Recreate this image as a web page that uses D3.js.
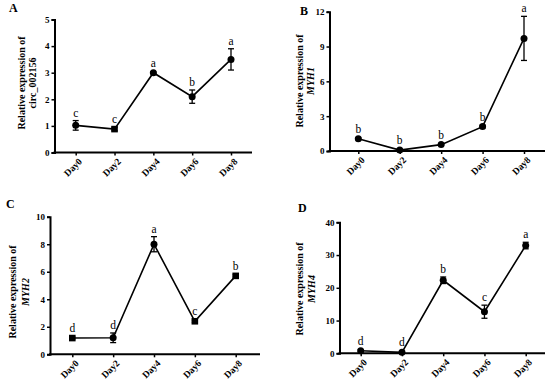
<!DOCTYPE html>
<html><head><meta charset="utf-8">
<script src="https://cdn.jsdelivr.net/npm/d3@7"></script>
<style>body{margin:0;background:#fff}svg{display:block}svg text{font-family:"Liberation Serif","DejaVu Serif",serif;fill:#000}</style>
</head><body><svg id="c" width="550" height="387"></svg>
<script>
const days = ["Day0","Day2","Day4","Day6","Day8"];
// Panel A
const aMean = [1.02, 0.88, 3.0, 2.1, 3.5];
const aErr  = [0.18, 0.06, 0.03, 0.25, 0.4];
const aLet  = ["c","c","a","b","a"];
const aShape= ["c","s","c","c","c"];
const aTicks= [0,1,2,3,4,5];
// Panel B
const bMean = [1.05, 0.08, 0.55, 2.1, 9.7];
const bErr  = [0.08, 0.05, 0.08, 0.12, 1.9];
const bLet  = ["b","b","b","b","a"];
const bShape= ["c","c","c","c","c"];
const bTicks= [0,3,6,9,12];
// Panel C
const cMean = [1.18, 1.2, 8.0, 2.4, 5.7];
const cErr  = [0.08, 0.35, 0.55, 0.08, 0.08];
const cLet  = ["d","d","a","c","b"];
const cShape= ["s","c","c","s","s"];
const cTicks= [0,2,4,6,8,10];
// Panel D
const dMean = [0.8, 0.3, 22.3, 12.7, 32.9];
const dErr  = [0.3, 0.2, 1.0, 2.0, 1.0];
const dLet  = ["d","d","b","c","a"];
const dShape= ["c","c","c","c","c"];
const dTicks= [0,10,20,30,40];

const svg = d3.select("#c");
const serif = '"Liberation Serif","DejaVu Serif",serif';

function panel(o){
  const g = svg.append("g");
  const y = d3.scaleLinear().domain([0, o.ymax]).range([o.y0, o.y1]);
  const x = d3.scalePoint().domain(days).range([o.p0, o.p1]);
  // y axis
  const ya = g.append("g").attr("transform",`translate(${o.ax},0)`)
    .call(d3.axisLeft(y).tickValues(o.ticks).tickFormat(d3.format("d")).tickSize(3).tickPadding(2));
  ya.attr("font-family",null);
  ya.select(".domain").attr("stroke","#000").attr("stroke-width",2);
  ya.selectAll(".tick line").attr("stroke","#000").attr("stroke-width",1.5);
  ya.selectAll("text").style("font-family",serif).style("font-weight","bold").style("font-size","9px").style("fill","#000");
  // x axis
  const xa = g.append("g").attr("transform",`translate(0,${o.y0})`)
    .call(d3.axisBottom(x).tickSize(3).tickPadding(2));
  xa.attr("font-family",null);
  xa.select(".domain").remove();
  g.append("line").attr("x1",o.ax-1).attr("x2",o.axEnd).attr("y1",o.y0).attr("y2",o.y0)
    .attr("stroke","#000").attr("stroke-width",2);
  xa.selectAll(".tick line").attr("stroke","#000").attr("stroke-width",1.5);
  xa.selectAll("text").style("font-family",serif).style("font-weight","bold").style("font-size","9.5px").style("fill","#000")
    .attr("text-anchor","end").attr("dy","0").attr("transform","translate(3,6) rotate(-45)");
  // line
  const pts = days.map((d,i)=>({d, m:o.mean[i], e:o.err[i], l:o.lets[i], s:o.shape[i]}));
  g.append("path").datum(pts)
    .attr("d", d3.line().x(p=>x(p.d)).y(p=>y(p.m)))
    .attr("fill","none").attr("stroke","#000").attr("stroke-width",1.6);
  // error bars
  pts.forEach(p=>{
    const cx = x(p.d), top = y(p.m+p.e), bot = y(Math.max(0,p.m-p.e));
    g.append("line").attr("x1",cx).attr("x2",cx).attr("y1",top).attr("y2",bot).attr("stroke","#000").attr("stroke-width",1.3);
    [top,bot].forEach(yy=>g.append("line").attr("x1",cx-3).attr("x2",cx+3).attr("y1",yy).attr("y2",yy).attr("stroke","#000").attr("stroke-width",1.3));
    if(p.s==="s"){
      g.append("rect").attr("x",cx-3.3).attr("y",y(p.m)-3.3).attr("width",6.6).attr("height",6.6).attr("fill","#000");
    } else {
      g.append("circle").attr("cx",cx).attr("cy",y(p.m)).attr("r",3.5).attr("fill","#000");
    }
    const ly = Math.min(y(p.m)-6, top-4);
    g.append("text").attr("x",cx).attr("y",ly).attr("text-anchor","middle")
      .style("font-family",serif).style("font-size","11.5px").style("fill","#000").text(p.l);
  });
  // y title
  const t = g.append("text").attr("transform",`translate(${o.tx},${o.ty}) rotate(-90)`)
    .attr("text-anchor","middle").style("font-family",serif).style("font-weight","bold").style("font-size","10px").style("fill","#000");
  t.append("tspan").attr("x",0).attr("dy",0).text("Relative expression of");
  t.append("tspan").attr("x",0).attr("dy",o.tgap).style("font-style",o.italic?"italic":"normal").text(o.gene);
  // panel letter
  g.append("text").attr("x",o.lx).attr("y",o.ly).style("font-family",serif).style("font-weight","bold")
    .style("font-size","12px").style("fill","#000").text(o.letter);
}

panel({mean:aMean, err:aErr, lets:aLet, shape:aShape, ticks:aTicks, ymax:5,
  ax:54.5, axEnd:252, y0:152.5, y1:19.5, p0:75.7, p1:231,
  tx:25, ty:83, tgap:10.5, gene:"circ_002156", italic:false, letter:"A", lx:9, ly:12});
panel({mean:bMean, err:bErr, lets:bLet, shape:bShape, ticks:bTicks, ymax:12,
  ax:329.5, axEnd:545, y0:151, y1:11.7, p0:358.3, p1:524,
  tx:303, ty:81, tgap:11, gene:"MYH1", italic:true, letter:"B", lx:300, ly:15});
panel({mean:cMean, err:cErr, lets:cLet, shape:cShape, ticks:cTicks, ymax:10,
  ax:50, axEnd:260, y0:354.3, y1:216.7, p0:72.3, p1:235.7,
  tx:16, ty:292, tgap:13, gene:"MYH2", italic:true, letter:"C", lx:6, ly:208});
panel({mean:dMean, err:dErr, lets:dLet, shape:dShape, ticks:dTicks, ymax:40,
  ax:339.5, axEnd:545, y0:353.3, y1:222.3, p0:360.7, p1:525.7,
  tx:303, ty:289, tgap:12, gene:"MYH4", italic:true, letter:"D", lx:298, ly:212});
</script></body></html>
